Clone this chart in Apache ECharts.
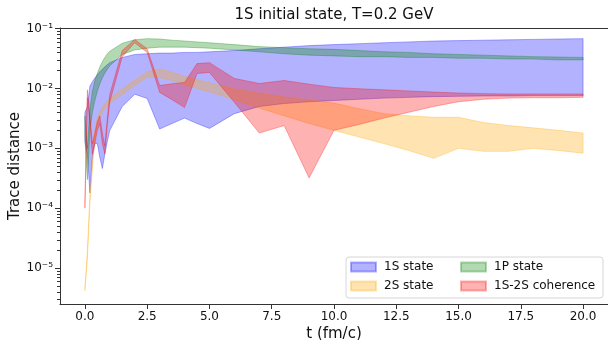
<!DOCTYPE html>
<html>
<head>
<meta charset="utf-8">
<script src="https://cdn.jsdelivr.net/npm/echarts@6/dist/echarts.min.js"></script>
<style>
html,body{margin:0;padding:0;background:#fff;}
#chart{width:608px;height:340px;}
</style>
</head>
<body>
<div id="chart"></div>
<script>
// ---- data ----
const T = [0,0.1,0.2,0.3,0.4,0.5,0.6,0.7,0.8,0.9,1.0,1.5,2.0,2.5,3.0,3.5,4.0,4.5,5.0,6,7,8,9,10,11,12,13,14,15,16,17,18,19,20];

const s1S_lo = [1.3e-3,8e-4,1.8e-4,7e-4,1.2e-3,1.2e-3,7e-4,4.6e-4,8e-4,1.3e-3,2e-3,5.0e-3,8.0e-3,6.8e-3,2.1e-3,2.6e-3,3.2e-3,2.6e-3,2.15e-3,3.8e-3,5.0e-3,5.6e-3,6.0e-3,6.3e-3,6.6e-3,6.9e-3,7.1e-3,7.3e-3,7.4e-3,7.5e-3,7.5e-3,7.6e-3,7.6e-3,7.6e-3];
const s1S_hi = [4e-3,5e-3,0.011,0.013,0.015,0.017,0.019,0.021,0.023,0.025,0.027,0.033,0.037,0.038,0.039,0.039,0.040,0.040,0.041,0.043,0.046,0.049,0.052,0.054,0.056,0.058,0.060,0.062,0.063,0.064,0.065,0.066,0.067,0.068];

const s2S_lo = [4.2e-6,1.4e-5,1.2e-4,4.5e-4,1.5e-3,2.5e-3,3.3e-3,4.0e-3,4.6e-3,5.2e-3,5.7e-3,8.0e-3,0.0112,0.0155,0.0152,0.0136,0.0115,0.010,0.0088,0.0065,0.0047,0.0035,0.0026,0.0020,0.00155,0.0012,0.00092,0.00068,0.0010,0.00089,0.00089,0.0010,0.00092,0.00083];
const s2S_hi = [4.6e-6,2.0e-5,1.7e-4,6e-4,2.0e-3,3.2e-3,4.0e-3,4.8e-3,5.5e-3,6.2e-3,6.8e-3,9.8e-3,0.0138,0.019,0.0212,0.0185,0.016,0.014,0.0125,0.0098,0.0083,0.0072,0.0064,0.0057,0.0046,0.0038,0.0035,0.0033,0.0033,0.0027,0.0024,0.0022,0.0020,0.0018];

const s1P_lo = [1.5e-3,3e-4,2e-3,4e-3,6.3e-3,9e-3,0.012,0.015,0.018,0.021,0.024,0.037,0.044,0.047,0.049,0.049,0.049,0.048,0.047,0.044,0.041,0.038,0.036,0.035,0.034,0.034,0.033,0.033,0.032,0.032,0.031,0.031,0.030,0.030];
const s1P_hi = [3.5e-3,1.0e-3,4.5e-3,9e-3,0.0135,0.018,0.023,0.028,0.033,0.038,0.042,0.057,0.065,0.068,0.067,0.064,0.062,0.060,0.058,0.054,0.050,0.048,0.046,0.045,0.043,0.041,0.040,0.038,0.037,0.036,0.035,0.034,0.0335,0.033];

const sCoh_lo = [1.0e-4,7e-3,2.5e-3,8e-4,1.2e-3,2.0e-3,2.6e-3,1.2e-3,8e-4,2.5e-3,6e-3,0.034,0.058,0.040,0.0086,0.0065,0.0048,0.0178,0.0185,0.0059,0.0018,0.0024,0.00032,0.0020,0.0025,0.0032,0.0040,0.0050,0.0060,0.0066,0.0069,0.0070,0.0070,0.0071];
const sCoh_hi = [1.3e-4,9.5e-3,3.5e-3,1.2e-3,1.8e-3,2.8e-3,3.5e-3,1.8e-3,1.1e-3,3.2e-3,8e-3,0.043,0.066,0.046,0.0112,0.012,0.0126,0.026,0.027,0.0147,0.0121,0.0136,0.0118,0.0104,0.0099,0.0095,0.0091,0.0087,0.0084,0.0082,0.0081,0.0081,0.0081,0.0081];

const xTicks = [0,2.5,5,7.5,10,12.5,15,17.5,20];
const yTicks = [1e-5,1e-4,1e-3,1e-2,1e-1];
const yTickLabels = ['10\u207B\u2075','10\u207B\u2074','10\u207B\u00B3','10\u207B\u00B2','10\u207B\u00B9'];
const yMinorTicks = [];
[1e-6,1e-5,1e-4,1e-3,1e-2].forEach(d => { for (let k=2;k<=9;k++) yMinorTicks.push(k*d); });

const names = ['1S state','2S state','1P state','1S-2S coherence'];
const colors = ['rgba(0,0,255,0.3)','rgba(255,165,0,0.3)','rgba(0,128,0,0.3)','rgba(255,0,0,0.3)'];
const bands = [[s1S_lo,s1S_hi],[s2S_lo,s2S_hi],[s1P_lo,s1P_hi],[sCoh_lo,sCoh_hi]];

const FONT = 'DejaVu Sans';
const X_MIN = -1, X_MAX = 21;
const yMin = Math.pow(10,-5.6), yMax = Math.pow(10,-0.99);

const chart = echarts.init(document.getElementById('chart'), null, {renderer:'canvas'});

function bandSeries(idx) {
  const lo = bands[idx][0], hi = bands[idx][1];
  const col = colors[idx];
  return {
    type: 'custom',
    name: names[idx],
    coordinateSystem: 'cartesian2d',
    z: 2 + idx,
    data: T.map((t,i) => [t, lo[i], hi[i]]),
    encode: {x: 0, y: [1,2]},
    itemStyle: {color: col, borderColor: col, borderWidth: 1},
    renderItem: function(params, api) {
      if (params.dataIndex !== 0) return null;
      const pts = [];
      for (let i = 0; i < T.length; i++) pts.push(api.coord([T[i], hi[i]]));
      for (let i = T.length - 1; i >= 0; i--) pts.push(api.coord([T[i], lo[i]]));
      return {
        type: 'polygon',
        shape: {points: pts},
        style: {fill: col, stroke: col, lineWidth: 1}
      };
    },
    silent: true,
    animation: false
  };
}

// minor ticks of the log axis (matplotlib style 2..9 x 10^n), positioned via the axis scale
const minorTickSeries = {
  type: 'custom',
  coordinateSystem: 'cartesian2d',
  clip: false,
  z: 10,
  silent: true,
  data: yMinorTicks.filter(v => v >= yMin && v <= yMax).map(v => [X_MIN, v]),
  encode: {x: 0, y: 1},
  renderItem: function(params, api) {
    const p = api.coord([api.value(0), api.value(1)]);
    const y = Math.round(p[1]) + 0.5;
    return {
      type: 'line',
      shape: {x1: p[0] - 3, y1: y, x2: p[0], y2: y},
      style: {stroke: '#333', lineWidth: 1}
    };
  }
};

const legendText = {fontFamily: FONT, fontSize: 12, color: '#111', lineHeight: 16, padding: [0,0,0,3]};

const option = {
  animation: false,
  backgroundColor: '#fff',
  grid: {left: 60, right: 0, top: 28, bottom: 36, containLabel: false, outerBoundsMode: 'none'},
  xAxis: [{
    type: 'value', min: X_MIN, max: X_MAX, position: 'bottom',
    axisLine: {show: true, onZero: false, lineStyle: {color: '#333', width: 1}},
    axisTick: {show: true, customValues: xTicks, length: 5, lineStyle: {color: '#333'}},
    axisLabel: {customValues: xTicks, formatter: v => v.toFixed(1), color: '#111', fontFamily: FONT, fontSize: 12, margin: 7},
    splitLine: {show: false},
    name: 't (fm/c)', nameLocation: 'middle', nameGap: 23, nameMoveOverlap: false,
    nameTextStyle: {fontFamily: FONT, fontSize: 15, color: '#111'}
  },{
    type: 'value', min: X_MIN, max: X_MAX, position: 'top',
    axisLine: {show: true, onZero: false, lineStyle: {color: '#333', width: 1}},
    axisTick: {show: false}, axisLabel: {show: false}, splitLine: {show: false}
  }],
  yAxis: [{
    type: 'log', min: yMin, max: yMax, logBase: 10, position: 'left',
    axisLine: {show: true, onZero: false, lineStyle: {color: '#333', width: 1}},
    axisTick: {show: true, customValues: yTicks, length: 5, lineStyle: {color: '#333'}},
    axisLabel: {customValues: yTicks, formatter: v => yTickLabels[Math.round(Math.log10(v)) + 5], color: '#111', fontFamily: FONT, fontSize: 12, margin: 7},
    splitLine: {show: false},
    name: 'Trace distance', nameLocation: 'middle', nameGap: 37, nameRotate: 90, nameMoveOverlap: false,
    nameTextStyle: {fontFamily: FONT, fontSize: 15, color: '#111'}
  }],
  legend: [{
    data: ['1S state','2S state'], orient: 'vertical', left: 350, top: 259, padding: 0,
    icon: 'rect', itemWidth: 25, itemHeight: 9, itemGap: 3, z: 20,
    textStyle: legendText, selectedMode: false
  },{
    data: ['1P state','1S-2S coherence'], orient: 'vertical', left: 460, top: 259, padding: 0,
    icon: 'rect', itemWidth: 25, itemHeight: 9, itemGap: 3, z: 20,
    textStyle: legendText, selectedMode: false
  }],
  graphic: [{
    type: 'rect', z: 10,
    shape: {x: 346, y: 257, width: 257, height: 41, r: 3},
    style: {fill: 'rgba(255,255,255,0.8)', stroke: '#d6d6d6', lineWidth: 1}
  },{
    type: 'text', z: 10, x: 334, y: 15,
    style: {text: '1S initial state, T=0.2 GeV', font: '15px "DejaVu Sans"', fill: '#111', textAlign: 'center', textVerticalAlign: 'middle'}
  }],
  series: [bandSeries(0), bandSeries(1), bandSeries(2), bandSeries(3), minorTickSeries]
};
chart.setOption(option);
</script>
</body>
</html>
